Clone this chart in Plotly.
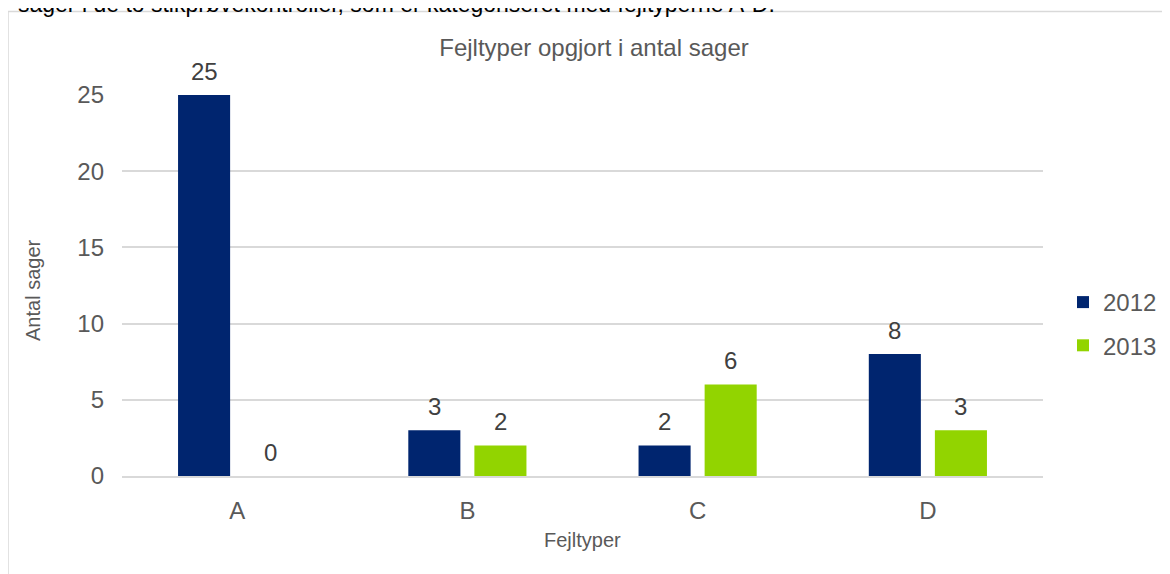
import plotly.graph_objects as go

categories = ["A", "B", "C", "D"]
series_names = ["2012", "2013"]
values_2012 = [25, 3, 2, 8]
values_2013 = [0, 2, 6, 3]
y_ticks = [0, 5, 10, 15, 20, 25]

title_text = "Fejltyper opgjort i antal sager"
x_title = "Fejltyper"
y_title = "Antal sager"
top_text = "sager i de to stikprøvekontroller, som er kategoriseret med fejltyperne A-D."

colors = ["#00256F", "#92D400"]
FONT = "Liberation Sans, Arial, sans-serif"

# page offset of the plot div (body margin)
OFF = 8
W, H = 1170, 574
# desired plot area in page pixels
PL, PR, PT, PB = 122, 1043, 95, 476
ml = PL - OFF
mt = PT - OFF
pw = PR - PL
ph = PB - PT
mr = W - ml - pw
mb = H - mt - ph

def px_x(p):
    return (p - PL) / pw

def px_y(p):
    return (PB - p) / ph

bargap = 0.426
bargroupgap = 0.212

fig = go.Figure()
for i, (name, vals) in enumerate(zip(series_names, [values_2012, values_2013])):
    fig.add_trace(go.Bar(
        x=categories, y=vals, name=name,
        marker=dict(color=colors[i], line=dict(width=0)),
        legendgroup=name,
    ))

# data labels
cat_px = pw / len(categories)
slot = cat_px * (1 - bargap) / 2
for i, vals in enumerate([values_2012, values_2013]):
    for c, v in zip(categories, vals):
        fig.add_annotation(
            x=c, y=v, xref="x", yref="y", text=str(v), showarrow=False,
            xshift=(i - 0.5) * slot, yshift=24, yanchor="middle",
            font=dict(family=FONT, size=24, color="#404040"),
        )

# axis titles
fig.add_annotation(x=px_x(582), y=px_y(540), xref="paper", yref="paper",
                   text=x_title, showarrow=False, xanchor="center", yanchor="middle",
                   font=dict(family=FONT, size=20, color="#595959"))
fig.add_annotation(x=px_x(33), y=px_y(290), xref="paper", yref="paper",
                   text=y_title, showarrow=False, textangle=-90,
                   xanchor="center", yanchor="middle",
                   font=dict(family=FONT, size=20, color="#595959"))

# cut-off text at top
fig.add_annotation(x=px_x(16), y=px_y(4), xref="paper", yref="paper",
                   text=top_text, showarrow=False, xanchor="left", yanchor="middle",
                   font=dict(family=FONT, size=23, color="#000000"))

# chart border
fig.add_shape(type="rect", xref="paper", yref="paper",
              x0=px_x(8), x1=px_x(1200), y0=px_y(620), y1=px_y(11.5),
              line=dict(color="#D9D9D9", width=1.5), fillcolor="rgba(0,0,0,0)",
              layer="below")

fig.update_layout(
    width=W, height=H,
    margin=dict(l=ml, r=mr, t=mt, b=mb),
    paper_bgcolor="white", plot_bgcolor="white",
    barmode="group", bargap=bargap, bargroupgap=bargroupgap,
    font=dict(family=FONT, size=24, color="#595959"),
    title=dict(text=title_text, x=(594 - OFF) / W, xref="container", xanchor="center",
               y=1 - (48 - OFF) / H, yref="container", yanchor="middle",
               font=dict(family=FONT, size=24, color="#595959")),
    showlegend=True,
    legend=dict(x=px_x(1063), y=px_y(324), xanchor="left", yanchor="middle",
                tracegroupgap=9, font=dict(family=FONT, size=24, color="#595959"),
                bgcolor="rgba(0,0,0,0)", itemclick=False),
    xaxis=dict(type="category", showgrid=False, showline=True, linecolor="#D9D9D9",
               linewidth=1.5, ticks="", ticklabelstandoff=12,
               tickfont=dict(family=FONT, size=24, color="#595959")),
    yaxis=dict(range=[0, 25], tickvals=y_ticks, showgrid=True, gridcolor="#D9D9D9",
               gridwidth=1.5, zeroline=False, showline=False, ticks="",
               ticklabelstandoff=17,
               tickfont=dict(family=FONT, size=24, color="#595959")),
)

fig.write_html("out.html")
